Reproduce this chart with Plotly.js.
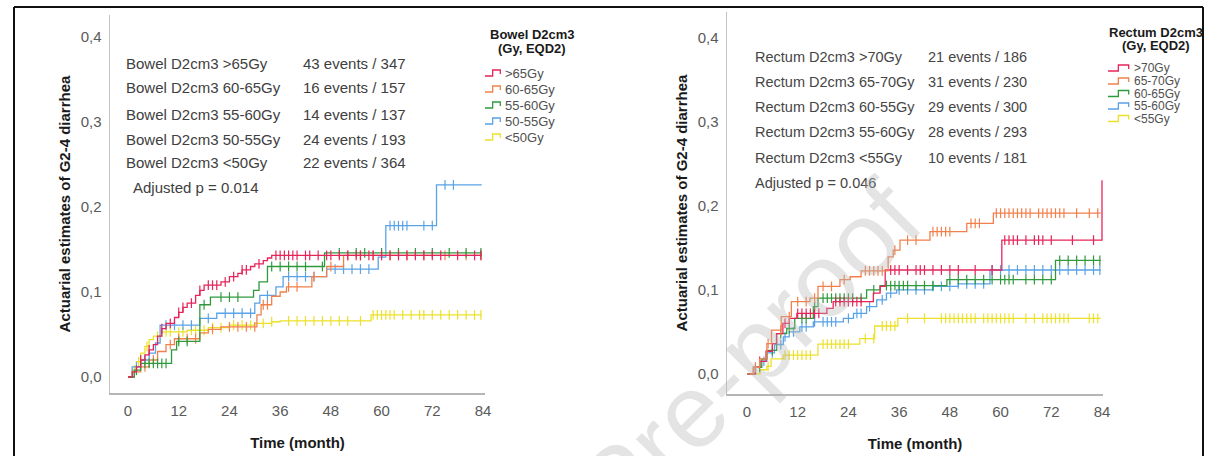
<!DOCTYPE html>
<html>
<head>
<meta charset="utf-8">
<script src="https://cdn.plot.ly/plotly-3.0.1.min.js"></script>
<style>html,body{margin:0;padding:0;background:#fff;}#chart{width:1205px;height:456px;}</style>
</head>
<body>
<div id="chart"></div>
<script>
// ---------------- DATA ----------------
const xTicks = [0, 12, 24, 36, 48, 60, 72, 84];
const yTickVals = [0, 0.1, 0.2, 0.3, 0.4];
const yTickText = ['0,0', '0,1', '0,2', '0,3', '0,4'];

// Left panel: Bowel D2cm3
const bowelNames = ['>65Gy', '60-65Gy', '55-60Gy', '50-55Gy', '<50Gy'];
const bowelRowLabels = ['Bowel D2cm3 >65Gy', 'Bowel D2cm3 60-65Gy', 'Bowel D2cm3 55-60Gy', 'Bowel D2cm3 50-55Gy', 'Bowel D2cm3 <50Gy'];
const bowelEvents = ['43 events / 347', '16 events / 157', '14 events / 137', '24 events / 193', '22 events / 364'];
const bowelP = 'Adjusted p = 0.014';

const b65T = [0, 1, 2, 3, 4, 5, 6, 7, 8, 9, 11, 12, 13, 14, 16, 17, 18, 22, 24, 26, 27, 29, 30, 32, 33, 34];
const b65V = [0, 0.006, 0.012, 0.02, 0.026, 0.032, 0.038, 0.048, 0.057, 0.063, 0.07, 0.076, 0.082, 0.087, 0.096, 0.102, 0.108, 0.112, 0.118, 0.122, 0.126, 0.13, 0.133, 0.137, 0.14, 0.143];
const b65C = [3, 5, 8, 10, 12, 13, 15, 17, 19, 20, 21, 23, 25, 27, 28, 31, 35, 36, 37, 38, 39, 40, 42, 43, 45, 47, 48, 50, 52, 54, 55, 57, 58, 60, 62, 64, 66, 68, 70, 72, 74, 78, 82, 83.5];

const b60T = [0, 1.5, 3, 5, 7, 9, 11, 17, 19, 22, 30.5, 31.5, 34, 36, 37.5, 43.5, 47, 51];
const b60V = [0, 0.006, 0.012, 0.02, 0.03, 0.038, 0.045, 0.052, 0.056, 0.059, 0.073, 0.085, 0.095, 0.1, 0.106, 0.118, 0.13, 0.143];
const b60C = [4, 6, 10, 12, 14, 16, 20, 24, 26, 28, 30, 32, 33, 38, 40, 44, 48, 52, 55, 58, 62, 66, 70, 75, 80, 83.5];

const b55T = [0, 1.5, 3, 10.3, 11.5, 17, 19.5, 29.7, 31, 33, 46.5];
const b55V = [0, 0.008, 0.016, 0.032, 0.042, 0.085, 0.094, 0.102, 0.112, 0.13, 0.146];
const b55C = [2, 4, 5, 6, 7, 8, 9, 12, 14, 18, 22, 24, 26, 34, 36, 38, 40, 42, 46, 50, 54, 56, 60, 64, 68, 72, 76, 80, 83.5];

const b50T = [0, 1, 3, 5, 6.5, 7.6, 17, 21, 30, 31.2, 35, 36.7, 47, 59.2, 61, 73];
const b50V = [0, 0.012, 0.02, 0.028, 0.04, 0.061, 0.069, 0.075, 0.087, 0.096, 0.106, 0.118, 0.127, 0.141, 0.178, 0.226];
const b50C = [2, 4, 9, 11, 13, 15, 19, 23, 25, 27, 29, 33, 38, 40, 42, 44, 49, 51, 53, 55, 57, 62, 63, 64, 65, 66, 70, 72, 75, 77];

const b0T = [0, 1, 2, 3, 4, 5, 6, 8, 14, 19, 24, 30, 34, 36, 57.5];
const b0V = [0, 0.008, 0.018, 0.028, 0.036, 0.044, 0.048, 0.053, 0.055, 0.058, 0.061, 0.063, 0.065, 0.066, 0.073];
const b0C = [1.5, 2.5, 4.5, 7, 9, 10, 12, 13, 15, 16, 18, 20, 22, 25, 27, 29, 32, 34, 38, 40, 42, 44, 46, 48, 50, 52, 55, 58, 59, 60, 61, 62, 63, 65, 67, 69, 70, 72, 74, 76, 78, 80, 82, 83.5];

// Right panel: Rectum D2cm3
const rectumNames = ['>70Gy', '65-70Gy', '60-65Gy', '55-60Gy', '<55Gy'];
const rectumRowLabels = ['Rectum D2cm3 >70Gy', 'Rectum D2cm3 65-70Gy', 'Rectum D2cm3 60-55Gy', 'Rectum D2cm3 55-60Gy', 'Rectum D2cm3 <55Gy'];
const rectumEvents = ['21 events / 186', '31 events / 230', '29 events / 300', '28 events / 293', '10 events / 181'];
const rectumP = 'Adjusted p = 0.046';

const r70T = [0, 2, 3, 4.5, 6, 7, 8.5, 10, 11.8, 18.9, 20.4, 29.9, 31.5, 32.7, 60.3, 84];
const r70V = [0, 0.008, 0.015, 0.027, 0.036, 0.048, 0.06, 0.066, 0.072, 0.078, 0.086, 0.096, 0.104, 0.1235, 0.159, 0.23];
const r70C = [3, 9, 12, 13, 14, 15, 16, 17, 21, 22, 23, 24, 25, 26, 27, 34, 35, 36, 38, 40, 41, 42, 44, 46, 48, 50, 54, 58, 61, 62, 63, 64, 66, 68, 69, 70, 72, 77, 82];

const r65T = [0, 1.5, 3, 4.7, 5.8, 8.1, 10.5, 14.9, 16.8, 22, 24.4, 27, 33.4, 34.6, 36.2, 43.3, 52, 58.3];
const r65V = [0, 0.008, 0.018, 0.036, 0.052, 0.068, 0.086, 0.09, 0.104, 0.112, 0.1155, 0.1225, 0.139, 0.147, 0.159, 0.169, 0.179, 0.191];
const r65C = [2, 5, 8, 10, 12, 14, 16, 18, 20, 23, 28, 29, 30, 31, 32, 35, 38, 40, 44, 45, 46, 47, 48, 53, 54, 55, 59, 60, 61, 62, 63, 64, 65, 66, 67, 69, 70, 71, 72, 73, 74, 75, 78, 81, 83];

const r60T = [0, 2, 3.5, 4.7, 7, 9.4, 11.3, 15.7, 16.8, 28.3, 31.5, 47.3, 73];
const r60V = [0, 0.008, 0.018, 0.028, 0.048, 0.054, 0.066, 0.08, 0.09, 0.1, 0.105, 0.112, 0.135];
const r60C = [3, 6, 8, 10, 13, 14, 16, 18, 19, 20, 21, 22, 23, 24, 25, 27, 30, 33, 34, 35, 36, 37, 38, 40, 42, 44, 48, 50, 52, 54, 56, 58, 60, 61, 62, 63, 66, 68, 70, 72, 74, 76, 78, 80, 82, 83.5];

const r55T = [0, 1.5, 3, 4.7, 6.5, 8.6, 10, 12.5, 15.7, 22.8, 25.2, 28.3, 30.7, 33, 35.4, 44, 50, 57.5];
const r55V = [0, 0.008, 0.015, 0.025, 0.035, 0.044, 0.05, 0.056, 0.062, 0.066, 0.072, 0.08, 0.088, 0.096, 0.1, 0.104, 0.107, 0.1235];
const r55C = [2, 4, 6, 8, 9, 11, 13, 14, 16, 18, 19, 20, 21, 24, 26, 27, 29, 32, 34, 36, 38, 40, 42, 44, 46, 48, 50, 52, 54, 56, 58, 60, 62, 64, 66, 68, 70, 72, 74, 76, 78, 80, 82, 83.5];

const r0T = [0, 3.1, 4.7, 5.7, 8.6, 16.8, 26.7, 30.2, 35.7];
const r0V = [0, 0.005, 0.009, 0.018, 0.0225, 0.0355, 0.042, 0.057, 0.066];
const r0C = [5, 9, 10, 11, 12, 13, 14, 15, 18, 19, 20, 21, 22, 23, 24, 28, 30, 32, 33, 34, 35, 38, 42, 46, 47, 48, 49, 50, 51, 52, 53, 54, 56, 57, 58, 59, 60, 61, 62, 63, 66, 68, 70, 71, 72, 73, 74, 75, 76, 81, 82, 83];

const followEnd = 83.7;

// ---------------- STYLE / LAYOUT ----------------
const W = 1205, H = 456;
const px = x => x / W;
const py = y => 1 - y / H;
const FONT = 'Liberation Sans, Arial, sans-serif';
const colors = ['#e6245a', '#f2804c', '#2f9a3c', '#5aa3e6', '#ece12a'];

function stepAt(T, V, t) {
  let v = V[0];
  for (let i = 0; i < T.length; i++) { if (T[i] <= t) v = V[i]; }
  return v;
}

const traces = [];
function addCurve(T, V, C, color, name, xa, ya) {
  const xs = T.slice(), ys = V.slice();
  if (xs[xs.length - 1] < followEnd) { xs.push(followEnd); ys.push(V[V.length - 1]); }
  traces.push({x: xs, y: ys, xaxis: xa, yaxis: ya, mode: 'lines', name: name,
    line: {shape: 'hv', color: color, width: 1.3}, showlegend: false, hoverinfo: 'skip'});
  traces.push({x: C, y: C.map(t => stepAt(T, V, t)), xaxis: xa, yaxis: ya, mode: 'markers', name: name,
    marker: {symbol: 'line-ns-open', size: 7, color: color, line: {width: 1.2, color: color}}, showlegend: false, hoverinfo: 'skip'});
}
// draw order: yellow, blue, orange, green, red (red on top)
addCurve(b0T, b0V, b0C, colors[4], bowelNames[4], 'x', 'y');
addCurve(b50T, b50V, b50C, colors[3], bowelNames[3], 'x', 'y');
addCurve(b60T, b60V, b60C, colors[1], bowelNames[1], 'x', 'y');
addCurve(b55T, b55V, b55C, colors[2], bowelNames[2], 'x', 'y');
addCurve(b65T, b65V, b65C, colors[0], bowelNames[0], 'x', 'y');

addCurve(r0T, r0V, r0C, colors[4], rectumNames[4], 'x2', 'y2');
addCurve(r55T, r55V, r55C, colors[3], rectumNames[3], 'x2', 'y2');
addCurve(r60T, r60V, r60C, colors[2], rectumNames[2], 'x2', 'y2');
addCurve(r70T, r70V, r70C, colors[0], rectumNames[0], 'x2', 'y2');
addCurve(r65T, r65V, r65C, colors[1], rectumNames[1], 'x2', 'y2');

const tickFont = {family: FONT, size: 15, color: '#5a5a5a'};
const titleFont = {family: FONT, size: 15, color: '#1a1a1a', weight: 'bold'};
function xAxis(domain, range) {
  return {domain: domain, range: range, tickvals: xTicks, ticktext: xTicks.map(String),
    showgrid: false, zeroline: false, showline: true, linecolor: '#b5b5b5', linewidth: 1.5,
    ticks: '', tickfont: tickFont, automargin: false, fixedrange: true, ticklabelstandoff: 3,
    title: {text: 'Time (month)', font: titleFont, standoff: 20}};
}
function yAxis(domain, range) {
  return {domain: domain, range: range, tickvals: yTickVals, ticktext: yTickText,
    showgrid: false, zeroline: false, showline: true, linecolor: '#c4c4c4', linewidth: 1.5,
    ticks: '', tickfont: tickFont, automargin: false, fixedrange: true, ticklabelstandoff: 4,
    title: {text: 'Actuarial estimates of G2-4 diarrhea', font: titleFont, standoff: 6}};
}

const annotations = [];
const shapes = [];
const txtFontL = {family: FONT, size: 15, color: '#404040'};
const txtFontR = {family: FONT, size: 14.5, color: '#454545'};
function addText(x, y, text, font, anchor) {
  annotations.push({xref: 'paper', yref: 'paper', x: px(x), y: py(y), text: text, showarrow: false,
    xanchor: anchor || 'left', yanchor: 'middle', font: font});
}
// Left panel stats text
const leftRows = [63, 88, 114, 139, 163];
bowelRowLabels.forEach((s, i) => addText(124, leftRows[i], s, txtFontL));
bowelEvents.forEach((s, i) => addText(301, leftRows[i], s, txtFontL));
addText(131, 188, bowelP, txtFontL);
// Right panel stats text
const rightRows = [57, 82, 107, 132, 158];
rectumRowLabels.forEach((s, i) => addText(753, rightRows[i], s, txtFontR));
rectumEvents.forEach((s, i) => addText(926, rightRows[i], s, txtFontR));
addText(753, 183, rectumP, txtFontR);

// Legends
const legTitleFont = {family: FONT, size: 13, color: '#1a1a1a', weight: 'bold'};
function addLegend(cx, titleYs, title1, names, x0, x1, ys, fsize) {
  addText(cx, titleYs[0], title1, legTitleFont, 'center');
  addText(cx, titleYs[1], '(Gy, EQD2)', legTitleFont, 'center');
  names.forEach((n, i) => {
    const y = ys[i];
    const w = x1 - x0;
    const path = 'M ' + px(x0) + ' ' + py(y + 3) + ' L ' + px(x0 + 0.45 * w) + ' ' + py(y + 3) +
      ' L ' + px(x0 + 0.45 * w) + ' ' + py(y - 3) + ' L ' + px(x0 + 0.9 * w) + ' ' + py(y - 3) +
      ' L ' + px(x0 + 0.9 * w) + ' ' + py(y + 1);
    shapes.push({type: 'path', xref: 'paper', yref: 'paper', path: path, line: {color: colors[i], width: 1.3}});
    addText(x1 + 1, y, n, {family: FONT, size: fsize, color: '#505050'});
  });
}
addLegend(532, [34, 48], 'Bowel D2cm3', bowelNames, 485, 502, [73, 89, 105, 121, 137], 13);
addLegend(1156, [32, 45], 'Rectum D2cm3', rectumNames, 1108, 1131, [68, 81, 93.5, 106, 118.5], 12);

// Watermark
annotations.push({xref: 'paper', yref: 'paper', x: px(618), y: py(484), text: 'Journal Pre-proof',
  showarrow: false, xanchor: 'center', yanchor: 'middle', textangle: -45,
  font: {family: FONT, size: 104, color: 'rgba(180,180,180,0.36)'}});

// Frame
const frame = {color: '#111', width: 2};
shapes.push({type: 'line', xref: 'paper', yref: 'paper', x0: px(14), x1: px(1203), y0: py(7), y1: py(7), line: frame});
shapes.push({type: 'line', xref: 'paper', yref: 'paper', x0: px(14), x1: px(14), y0: py(7), y1: py(460), line: frame});
shapes.push({type: 'line', xref: 'paper', yref: 'paper', x0: px(1203), x1: px(1203), y0: py(7), y1: py(460), line: frame});

const layout = {
  width: W, height: H, autosize: false,
  margin: {l: 0, r: 0, t: 0, b: 0},
  paper_bgcolor: '#ffffff', plot_bgcolor: 'rgba(0,0,0,0)',
  showlegend: false,
  xaxis: Object.assign(xAxis([px(110), px(485)], [-4.26, 84.47]), {anchor: 'y'}),
  yaxis: Object.assign(yAxis([py(393), py(15)], [-0.0188, 0.4259]), {anchor: 'x'}),
  xaxis2: Object.assign(xAxis([px(727), px(1103)], [-4.73, 84.24]), {anchor: 'y2'}),
  yaxis2: Object.assign(yAxis([py(394), py(12)], [-0.0238, 0.43]), {anchor: 'x2'}),
  annotations: annotations,
  shapes: shapes
};

Plotly.newPlot('chart', traces, layout, {displayModeBar: false, staticPlot: true});
</script>
</body>
</html>
